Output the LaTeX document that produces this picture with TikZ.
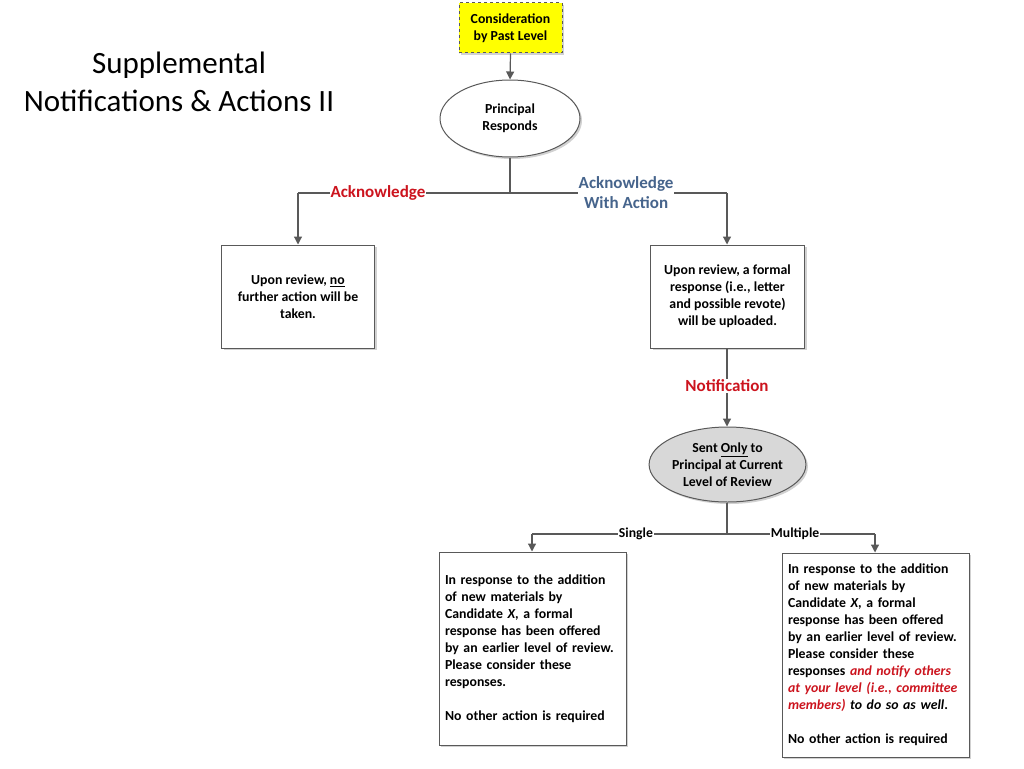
\documentclass[tikz,border=0pt]{standalone}
\usepackage{fontspec}
\setmainfont{Carlito}
\usetikzlibrary{arrows.meta,shapes.geometric,shadows}
\definecolor{lineg}{RGB}{89,89,89}
\definecolor{redc}{RGB}{204,20,30}
\definecolor{bluec}{RGB}{70,100,140}
\definecolor{ylw}{RGB}{255,255,0}
\definecolor{grayfill}{RGB}{216,216,216}
\tikzset{
 conn/.style={draw=lineg, line width=1.2pt},
 arr/.style={conn, -{Triangle[length=8pt,width=8pt]}},
 shad/.style={drop shadow={shadow xshift=2pt,shadow yshift=-2pt,fill=black,opacity=0.18}},
 boxs/.style={rectangle, draw=lineg, line width=1pt, fill=white, shad, inner sep=6pt},
 ell/.style={ellipse, draw=lineg, line width=1pt, fill=white, shad, inner sep=0pt, align=center, txt},
 lbl/.style={fill=white, inner sep=1pt, align=center, font=\bfseries\fontsize{17}{20}\selectfont},
 slbl/.style={fill=white, inner sep=1pt, font=\bfseries\fontsize{13.7}{15}\selectfont},
 txt/.style={font=\bfseries\fontsize{13.8}{17}\selectfont}
}
\begin{document}
\begin{tikzpicture}[x=1pt,y=-1pt]
\useasboundingbox (0,0) rectangle (1024,768);
\node[font=\fontsize{31}{38}\selectfont, align=center] (title) at (179,82) {Supplemental\\Notifications \& Actions II};

\node[boxs, fill=ylw, dashed, minimum width=103pt, minimum height=50pt, txt, align=center, inner sep=2pt] (cons) at (510.5,28) {Consideration\\by Past Level};
\node[ell, minimum width=140pt, minimum height=77pt] (pr) at (510,118.5) {Principal\\Responds};
\draw[arr] (cons.south) -- (pr.north);

\coordinate (j1) at (510,193);
\coordinate (ackL) at (298,193);
\coordinate (ackR) at (727,193);

\node[boxs, minimum width=153pt, minimum height=103pt, txt, align=center] (lbox) at (298,296.5) {Upon review, \underline{no}\\further action will be\\taken.};
\node[boxs, minimum width=154pt, minimum height=103pt, txt, align=center] (rbox) at (727.5,296.5) {Upon review, a formal\\response (i.e., letter\\and possible revote)\\will be uploaded.};

\draw[conn] (pr.south) -- (j1);
\draw[conn] (j1) -- node[lbl, text=redc, pos=0.623] (lack) {Acknowledge} (ackL);
\draw[conn] (j1) -- node[lbl, text=bluec, pos=0.535] (lackw) {Acknowledge\\With Action} (ackR);
\draw[arr] (ackL) -- (lbox.north);
\draw[arr] (ackR) -- (ackR |- rbox.north);

\node[ell, fill=grayfill, minimum width=153pt, minimum height=75pt] (sent) at (727.5,464.5) {Sent \underline{Only} to\\Principal at Current\\Level of Review};
\draw[arr] (ackR |- rbox.south) -- node[lbl, text=redc, pos=0.48] (lnot) {Notification} (ackR |- sent.north);

\coordinate (j2) at (727,534);
\coordinate (sL) at (532,534);
\coordinate (sR) at (875,534);
\draw[conn] (ackR |- sent.south) -- (j2);
\draw[conn] (j2) -- node[slbl, pos=0.467] (lsingle) {Single} (sL);
\draw[conn] (j2) -- node[slbl, pos=0.46] (lmulti) {Multiple} (sR);

\node[boxs, minimum width=187pt, minimum height=193pt, text width=175pt, align=left, txt] (bl) at (532.5,648.5) {In response to the addition\\of new materials by\\Candidate \textit{X}, a formal\\response has been offered\\by an earlier level of review.\\Please consider these\\responses.\\[17pt]No other action is required};
\node[boxs, minimum width=187pt, minimum height=204pt, text width=175pt, align=left, txt] (br) at (875.5,655) {In response to the addition\\of new materials by\\Candidate \textit{X}, a formal\\response has been offered\\by an earlier level of review.\\Please consider these\\responses \textcolor{redc}{\itshape and notify others}\\\textcolor{redc}{\itshape at your level (i.e., committee}\\\textcolor{redc}{\itshape members)} \textit{to do so as well}.\\[17pt]No other action is required};
\draw[arr] (sL) -- (bl.north -| sL);
\draw[arr] (sR) -- (br.north -| sR);
\end{tikzpicture}
\end{document}
